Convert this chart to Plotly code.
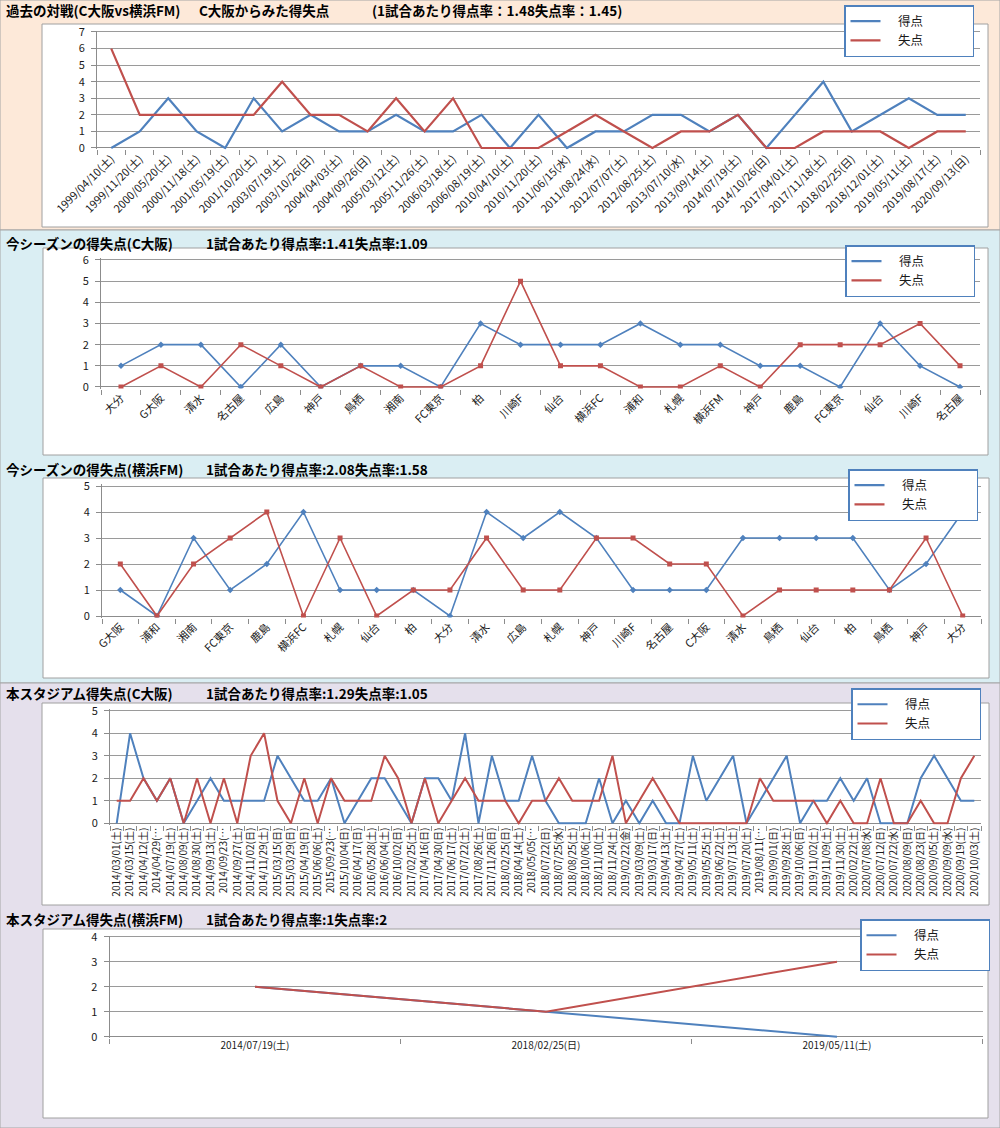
import plotly.graph_objects as go

W, H = 1000, 1128
def X(px): return px / W
def Y(py): return 1 - py / H

BLUE = "#4F81BD"
RED = "#C0504D"
AX = "#8C8C8C"
GRID = "#9A9A9A"
FONT = "Noto Sans CJK JP"
TXT = "#1A1A1A"

# ---------------- data ----------------
p1_dates = ["1999/04/10(土)", "1999/11/20(土)", "2000/05/20(土)", "2000/11/18(土)", "2001/05/19(土)",
            "2001/10/20(土)", "2003/07/19(土)", "2003/10/26(日)", "2004/04/03(土)", "2004/09/26(日)",
            "2005/03/12(土)", "2005/11/26(土)", "2006/03/18(土)", "2006/08/19(土)", "2010/04/10(土)",
            "2010/11/20(土)", "2011/06/15(水)", "2011/08/24(水)", "2012/07/07(土)", "2012/08/25(土)",
            "2013/07/10(水)", "2013/09/14(土)", "2014/07/19(土)", "2014/10/26(日)", "2017/04/01(土)",
            "2017/11/18(土)", "2018/02/25(日)", "2018/12/01(土)", "2019/05/11(土)", "2019/08/17(土)",
            "2020/09/13(日)"]
p1_for = [0, 1, 3, 1, 0, 3, 1, 2, 1, 1, 2, 1, 1, 2, 0, 2, 0, 1, 1, 2, 2, 1, 2, 0, 2, 4, 1, 2, 3, 2, 2]
p1_against = [6, 2, 2, 2, 2, 2, 4, 2, 2, 1, 3, 1, 3, 0, 0, 0, 1, 2, 1, 0, 1, 1, 2, 0, 0, 1, 1, 1, 0, 1, 1]

p2_teams = ["大分", "G大阪", "清水", "名古屋", "広島", "神戸", "鳥栖", "湘南", "FC東京", "柏", "川崎F",
            "仙台", "横浜FC", "浦和", "札幌", "横浜FM", "神戸", "鹿島", "FC東京", "仙台", "川崎F", "名古屋"]
p2_for = [1, 2, 2, 0, 2, 0, 1, 1, 0, 3, 2, 2, 2, 3, 2, 2, 1, 1, 0, 3, 1, 0]
p2_against = [0, 1, 0, 2, 1, 0, 1, 0, 0, 1, 5, 1, 1, 0, 0, 1, 0, 2, 2, 2, 3, 1]

p3_teams = ["G大阪", "浦和", "湘南", "FC東京", "鹿島", "横浜FC", "札幌", "仙台", "柏", "大分", "清水", "広島",
            "札幌", "神戸", "川崎F", "名古屋", "C大阪", "清水", "鳥栖", "仙台", "柏", "鳥栖", "神戸", "大分"]
p3_for = [1, 0, 3, 1, 2, 4, 1, 1, 1, 0, 4, 3, 4, 3, 1, 1, 1, 3, 3, 3, 3, 1, 2, 4]
p3_against = [2, 0, 2, 3, 4, 0, 3, 0, 1, 1, 3, 1, 1, 3, 3, 2, 2, 0, 1, 1, 1, 1, 3, 0]

p4_dates = ["2014/03/01(土)", "2014/03/15(土)", "2014/04/12(土)", "2014/04/29(…", "2014/07/19(土)",
            "2014/08/09(土)", "2014/08/30(土)", "2014/09/13(土)", "2014/09/23(…", "2014/09/27(土)",
            "2014/11/02(日)", "2014/11/29(土)", "2015/03/15(日)", "2015/03/29(日)", "2015/04/19(日)",
            "2015/06/06(土)", "2015/09/23(…", "2015/10/04(日)", "2016/04/17(日)", "2016/05/28(土)",
            "2016/06/04(土)", "2016/10/02(日)", "2017/02/25(土)", "2017/04/16(日)", "2017/04/30(日)",
            "2017/06/17(土)", "2017/07/22(土)", "2017/08/26(土)", "2017/11/26(日)", "2018/02/25(日)",
            "2018/04/14(土)", "2018/05/05(…", "2018/07/22(日)", "2018/07/25(水)", "2018/08/25(土)",
            "2018/10/06(土)", "2018/11/10(土)", "2018/11/24(土)", "2019/02/22(金)", "2019/03/09(土)",
            "2019/03/17(日)", "2019/04/13(土)", "2019/04/27(土)", "2019/05/11(土)", "2019/05/25(土)",
            "2019/06/22(土)", "2019/07/13(土)", "2019/07/20(土)", "2019/08/11(…", "2019/09/01(日)",
            "2019/09/28(土)", "2019/10/06(日)", "2019/11/02(土)", "2019/11/09(土)", "2019/11/30(土)",
            "2020/02/22(土)", "2020/07/08(水)", "2020/07/12(日)", "2020/07/22(水)", "2020/08/09(日)",
            "2020/08/23(日)", "2020/09/05(土)", "2020/09/09(水)", "2020/09/19(土)", "2020/10/03(土)"]
p4_for = [0, 4, 2, 1, 2, 0, 1, 2, 1, 1,
          1, 1, 3, 2, 1, 1, 2, 0, 1, 2,
          2, 1, 0, 2, 2, 1, 4, 0, 3, 1,
          1, 3, 1, 0, 0, 0, 2, 0, 1, 0,
          1, 0, 0, 3, 1, 2, 3, 0, 1, 2,
          3, 0, 1, 1, 2, 1, 2, 0, 0, 0,
          2, 3, 2, 1, 1]
p4_against = [1, 1, 2, 1, 2, 0, 2, 0, 2, 0,
              3, 4, 1, 0, 2, 0, 2, 1, 1, 1,
              3, 2, 0, 2, 0, 1, 2, 1, 1, 1,
              0, 1, 1, 2, 1, 1, 1, 3, 0, 1,
              2, 1, 0, 0, 0, 0, 0, 0, 2, 1,
              1, 1, 1, 0, 1, 0, 0, 2, 0, 0,
              1, 0, 0, 2, 3]

p5_dates = ["2014/07/19(土)", "2018/02/25(日)", "2019/05/11(土)"]
p5_for = [2, 1, 0]
p5_against = [2, 1, 3]

series_names = ["得点", "失点"]

titles = [
    ("過去の対戦(C大阪vs横浜FM)", "C大阪からみた得失点", "(1試合あたり得点率：1.48失点率：1.45)"),
    ("今シーズンの得失点(C大阪)", "", "1試合あたり得点率:1.41失点率:1.09"),
    ("今シーズンの得失点(横浜FM)", "", "1試合あたり得点率:2.08失点率:1.58"),
    ("本スタジアム得失点(C大阪)", "", "1試合あたり得点率:1.29失点率:1.05"),
    ("本スタジアム得失点(横浜FM)", "", "1試合あたり得点率:1失点率:2"),
]

# ---------------- layout geometry (pixels) ----------------
panels = [
    dict(labels=p1_dates, gf=p1_for, ga=p1_against, x0=97, x1=980, y0=32, y1=148, ymax=7,
         angle=-45, tfs=11, lw=2.2, markers=False, leg=(844, 5), box=(42, 24, 988, 227),
         title_y=10, t2x=198, t3x=371),
    dict(labels=p2_teams, gf=p2_for, ga=p2_against, x0=101, x1=980, y0=260, y1=387, ymax=6,
         angle=-45, tfs=11, lw=1.6, markers=True, leg=(845, 245), box=(43, 248, 988, 455),
         title_y=243, t2x=None, t3x=205),
    dict(labels=p3_teams, gf=p3_for, ga=p3_against, x0=102, x1=981, y0=486, y1=616, ymax=5,
         angle=-45, tfs=11, lw=1.6, markers=True, leg=(848, 469), box=(43, 478, 989, 678),
         title_y=469, t2x=None, t3x=205),
    dict(labels=p4_dates, gf=p4_for, ga=p4_against, x0=110, x1=981, y0=710.7, y1=823.3, ymax=5,
         angle=-90, tfs=10, lw=2.0, markers=False, leg=(851, 688), box=(42, 703, 989, 905),
         title_y=693, t2x=None, t3x=205),
    dict(labels=p5_dates, gf=p5_for, ga=p5_against, x0=109.5, x1=982.5, y0=936.7, y1=1036.7, ymax=4,
         angle=0, tfs=10, lw=2.0, markers=False, leg=(860, 919), box=(43, 929, 988, 1118),
         title_y=919, t2x=None, t3x=205),
]

fig = go.Figure()
lay = {}
shapes = []
annots = []

# section backgrounds
for (top, bot, col) in [(0, 230, "#FDE9D9"), (230, 683, "#DAEEF3"), (683, H, "#E5E0EC")]:
    shapes.append(dict(type="rect", xref="paper", yref="paper", x0=0, x1=1, y0=Y(bot), y1=Y(top),
                       fillcolor=col, line=dict(color="#A6A6A6", width=1), layer="below"))

def legend_name(s):
    return "\u3000" + s + "\u3000\u3000\u3000\u2002"

for k, p in enumerate(panels, start=1):
    sfx = "" if k == 1 else str(k)
    xa, ya = "x" + sfx, "y" + sfx
    lg = "legend" + sfx
    n = len(p["labels"])
    idx = list(range(n))
    bx0, by0, bx1, by1 = p["box"]
    shapes.append(dict(type="rect", xref="paper", yref="paper", x0=X(bx0), x1=X(bx1), y0=Y(by1), y1=Y(by0),
                       fillcolor="white", line=dict(color="#A0A0A0", width=1), layer="below"))
    for name, vals, color, sym in [(series_names[0], p["gf"], BLUE, "diamond"),
                                   (series_names[1], p["ga"], RED, "square")]:
        fig.add_trace(go.Scatter(
            x=idx, y=vals, name=legend_name(name),
            mode="lines+markers" if p["markers"] else "lines",
            line=dict(color=color, width=p["lw"]),
            marker=dict(symbol=sym, size=5, color=color),
            xaxis=xa, yaxis=ya, legend=lg, hoverinfo="skip",
            showlegend=not p["markers"]))
        if p["markers"]:
            # legend entry shows the line only (as in the reference)
            fig.add_trace(go.Scatter(
                x=[None], y=[None], name=legend_name(name), mode="lines",
                line=dict(color=color, width=p["lw"] + 0.6),
                xaxis=xa, yaxis=ya, legend=lg, hoverinfo="skip", showlegend=True))
    pad = p["ymax"] * 0.012
    unit = (p["y1"] - p["y0"]) / p["ymax"]
    lay["xaxis" + sfx] = dict(
        domain=[X(p["x0"]), X(p["x1"])], anchor=ya, range=[-0.5, n - 0.5],
        tickmode="array", tickvals=idx, ticktext=p["labels"], tickangle=p["angle"],
        tickfont=dict(family=FONT, size=p["tfs"], color=TXT), ticks="", showline=False,
        showgrid=False, zeroline=False, automargin=False, fixedrange=True,
        minor=dict(ticks="outside", ticklen=5, tickcolor=AX, tickwidth=1,
                   tickmode="linear", tick0=-0.5, dtick=1, showgrid=False))
    lay["yaxis" + sfx] = dict(
        domain=[Y(p["y1"] + pad * unit), Y(p["y0"] - pad * unit)],
        anchor=xa, range=[-pad, p["ymax"] + pad], tickmode="linear", tick0=0, dtick=1,
        showgrid=True, gridcolor=GRID, gridwidth=1, zeroline=True, zerolinecolor=AX, zerolinewidth=1,
        showline=True, linecolor=AX, linewidth=1, ticks="outside", ticklen=5, tickcolor=AX,
        ticklabelstandoff=4,
        tickfont=dict(family=FONT, size=11, color=TXT), automargin=False, fixedrange=True)
    lx, ly = p["leg"]
    lay[lg] = dict(x=X(lx), y=Y(ly), xanchor="left", yanchor="top", bgcolor="white",
                   bordercolor=BLUE, borderwidth=1.5, font=dict(family=FONT, size=12.5, color=TXT),
                   itemwidth=30, tracegroupgap=0, traceorder="normal")
    t1, t2, t3 = titles[k - 1]
    tf = dict(family=FONT, size=13.5, color="#000000")
    annots.append(dict(text="<b>" + t1 + "</b>", x=X(5), y=Y(p["title_y"]), xref="paper", yref="paper",
                       xanchor="left", yanchor="middle", showarrow=False, font=tf, borderpad=0))
    if t2:
        annots.append(dict(text="<b>" + t2 + "</b>", x=X(p["t2x"]), y=Y(p["title_y"]), xref="paper", yref="paper",
                           xanchor="left", yanchor="middle", showarrow=False, font=tf, borderpad=0))
    annots.append(dict(text="<b>" + t3 + "</b>", x=X(p["t3x"]), y=Y(p["title_y"]), xref="paper", yref="paper",
                       xanchor="left", yanchor="middle", showarrow=False, font=tf, borderpad=0))

fig.update_layout(
    width=W, height=H, margin=dict(l=0, r=0, t=0, b=0),
    paper_bgcolor="white", plot_bgcolor="rgba(0,0,0,0)",
    shapes=shapes, annotations=annots, showlegend=True,
    font=dict(family=FONT), **lay)

fig.write_html("out.html", config={"displayModeBar": False},
               post_script="document.body.style.margin='0px';")
